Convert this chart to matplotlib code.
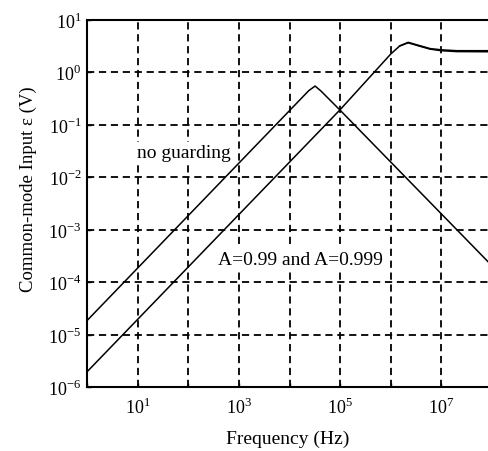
import numpy as np
import matplotlib.pyplot as plt
from matplotlib.ticker import FixedLocator, FixedFormatter, NullLocator

# 数据
freq_ng = [1, 2.4e4, 3.2e4, 4.2e4, 1e5, 1e6, 1e7, 8.9e7]
eps_ng = [1.85e-5, 0.45, 0.55, 0.44, 0.19, 1.95e-2, 2.0e-3, 2.3e-4]

# A=0.99 / A=0.999 两条曲线在上升段重合
freq_a99 = [1, 1e5, 1e6, 1.5e6, 2.2e6, 3.5e6, 6e6, 1e7, 2e7, 8.9e7]
eps_a99 = [1.95e-6, 0.195, 2.25, 3.2, 3.75, 3.3, 2.85, 2.7, 2.6, 2.6]
freq_a999 = [1.5e6, 2.2e6, 3.5e6, 6e6, 1e7, 2e7, 8.9e7]
eps_a999 = [3.2, 3.68, 3.22, 2.78, 2.6, 2.5, 2.48]

x_ticks = [10.0 ** k for k in range(0, 9)]
x_labels = ['', '$10^{1}$', '', '$10^{3}$', '', '$10^{5}$', '', '$10^{7}$', '']
y_ticks = [10.0 ** k for k in range(-6, 2)]
y_labels = ['$10^{%d}$' % k for k in range(-6, 2)]

plt.rcParams['font.family'] = ['Liberation Serif', 'DejaVu Serif']
plt.rcParams['mathtext.fontset'] = 'custom'
plt.rcParams['mathtext.rm'] = 'Liberation Serif'

fig = plt.figure(figsize=(4.89, 4.52), dpi=100)
ax = fig.add_axes([0.178, 0.1416, 0.822, 0.8119])

ax.plot(freq_ng, eps_ng, color='black', lw=1.1)
ax.plot(freq_a99, eps_a99, color='black', lw=1.1)
ax.plot(freq_a999, eps_a999, color='black', lw=1.1)

ax.set_xscale('log')
ax.set_yscale('log')
ax.set_xlim(1, 10 ** 7.94)
ax.set_ylim(1e-6, 10)

ax.xaxis.set_major_locator(FixedLocator(x_ticks))
ax.xaxis.set_major_formatter(FixedFormatter(x_labels))
ax.yaxis.set_major_locator(FixedLocator(y_ticks))
ax.yaxis.set_major_formatter(FixedFormatter(y_labels))
ax.xaxis.set_minor_locator(NullLocator())
ax.yaxis.set_minor_locator(NullLocator())
ax.tick_params(direction='in', length=3, width=1, labelsize=13)
ax.tick_params(axis='y', pad=4)
ax.tick_params(axis='x', pad=7)

ax.grid(True, color='black', lw=1.3, linestyle=(0, (4, 2.6)))

for s in ['left', 'top', 'bottom']:
    ax.spines[s].set_linewidth(1.5)
ax.spines['right'].set_visible(False)

box = dict(facecolor='white', edgecolor='none', pad=1.5)
ax.text(9.5, 0.03, 'no guarding', fontsize=14, va='center', ha='left', bbox=box)
ax.text(380, 2.75e-4, 'A=0.99 and A=0.999', fontsize=14, va='center', ha='left', bbox=box)

ax.set_xlabel('Frequency (Hz)', fontsize=14, labelpad=9)
ax.set_ylabel('Common-mode Input ε (V)', fontsize=13.5)
ax.yaxis.set_label_coords(-0.124, 0.542)

plt.savefig('out.png', dpi=100)
